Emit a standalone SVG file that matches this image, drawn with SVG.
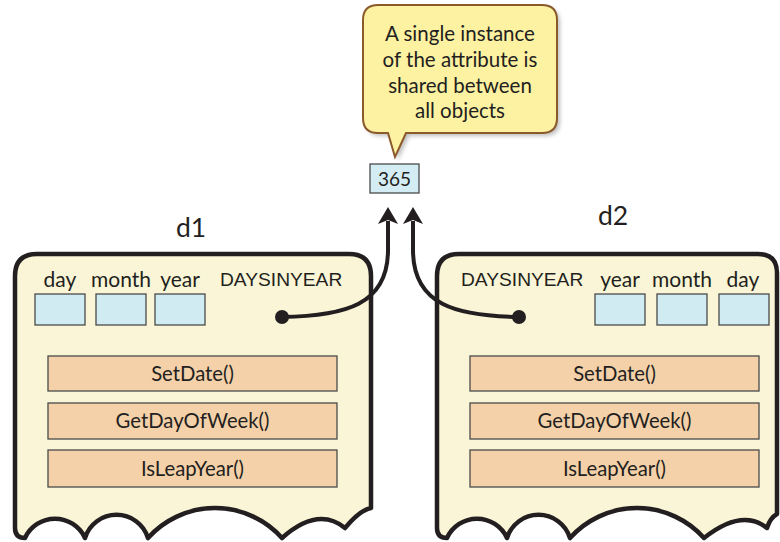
<svg xmlns="http://www.w3.org/2000/svg" width="780" height="542" viewBox="0 0 780 542">
  <style>
    .obj { fill: #f9f5d6; stroke: #231f20; stroke-width: 4.5; stroke-linejoin: round; }
    .attr { fill: #d0ebf2; stroke: #4a4a4a; stroke-width: 1.3; }
    .meth { fill: #f4d1a9; stroke: #4a4a4a; stroke-width: 1.3; }
    .t { font-family: Lato, "Liberation Sans", sans-serif; fill: #231f20; }
    .lbl { font-size: 21px; text-anchor: middle; }
    .note { font-size: 20.5px; text-anchor: middle; }
    .cap { font-family: "Liberation Sans", Arial, sans-serif; font-size: 19.2px; fill: #231f20; }
    .mt { font-size: 20.3px; text-anchor: middle; }
    .name { font-size: 26.5px; }
    .link { fill: none; stroke: #231f20; stroke-width: 4; }
  </style>
  <defs>
    <marker id="head" markerUnits="userSpaceOnUse" markerWidth="40" markerHeight="40" refX="0" refY="0" viewBox="-20 -20 40 40" orient="auto" overflow="visible">
      <path d="M14,0 L-3,-10 L1,0 L-3,10 Z" fill="#231f20"/>
    </marker>
    <filter id="soft" x="-10%" y="-10%" width="130%" height="130%">
      <feGaussianBlur stdDeviation="2"/>
    </filter>
  </defs>

  <rect width="780" height="542" fill="#ffffff"/>

  <!-- callout -->
  <g id="callout">
    <path d="M381,8 H545 Q560,8 560,23 V121 Q560,136 545,136 H409 L398,160 L391,136 H381 Q366,136 366,121 V23 Q366,8 381,8 Z" fill="#000" opacity="0.25" filter="url(#soft)"/>
    <path d="M378,5 H542 Q557,5 557,20 V118 Q557,133 542,133 H406 L395,157 L388,133 H378 Q363,133 363,118 V20 Q363,5 378,5 Z" fill="#fdf1a2" stroke="#8b5a2b" stroke-width="2"/>
    <text class="t note" x="460" y="41">A single instance</text>
    <text class="t note" x="460" y="67">of the attribute is</text>
    <text class="t note" x="460" y="93">shared between</text>
    <text class="t note" x="460" y="118">all objects</text>
  </g>

  <!-- shared static value -->
  <g id="shared">
    <rect x="370" y="164" width="49" height="29" fill="#d4edf4" stroke="#4a4a4a" stroke-width="1.3"/>
    <text class="t" x="394.5" y="186" font-size="19" text-anchor="middle">365</text>
  </g>

  <!-- object d1 -->
  <g id="d1">
    <text class="t name" x="176" y="237">d1</text>
    <path class="obj" d="M15,528 V276 Q15,254 37,254 H349 Q371,254 371,276 V508 Q360,510 345,528 Q318,506 282,538 A90 90 0 0 0 148,538 A33 33 0 0 0 85,538 A33 33 0 0 0 25,538 Q15,538 15,528 Z"/>
    <text class="t lbl" x="60" y="287">day</text>
    <text class="t lbl" x="121" y="287">month</text>
    <text class="t lbl" x="180" y="287">year</text>
    <text class="cap" x="220" y="286">DAYSINYEAR</text>
    <rect class="attr" x="35" y="294" width="50" height="31"/>
    <rect class="attr" x="96" y="294" width="50" height="31"/>
    <rect class="attr" x="155" y="294" width="50" height="31"/>
    <rect class="meth" x="48" y="356" width="289" height="35"/>
    <rect class="meth" x="48" y="403" width="289" height="36"/>
    <rect class="meth" x="48" y="450" width="289" height="37"/>
    <text class="t mt" x="192.5" y="381">SetDate()</text>
    <text class="t mt" x="192.5" y="428">GetDayOfWeek()</text>
    <text class="t mt" x="192.5" y="476">IsLeapYear()</text>
  </g>

  <!-- object d2 -->
  <g id="d2">
    <text class="t name" x="598" y="225">d2</text>
    <path class="obj" d="M437,528 V276 Q437,254 459,254 H758 Q777,254 777,273 V514 Q770,518 767,528 Q742,508 704,538 A90 90 0 0 0 570,538 A33 33 0 0 0 507,538 A33 33 0 0 0 447,538 Q437,538 437,528 Z"/>
    <text class="cap" x="461" y="286">DAYSINYEAR</text>
    <text class="t lbl" x="620" y="287">year</text>
    <text class="t lbl" x="682" y="287">month</text>
    <text class="t lbl" x="743" y="287">day</text>
    <rect class="attr" x="595" y="294" width="50" height="31"/>
    <rect class="attr" x="657" y="294" width="50" height="31"/>
    <rect class="attr" x="719" y="294" width="50" height="31"/>
    <rect class="meth" x="470" y="356" width="289" height="35"/>
    <rect class="meth" x="470" y="403" width="289" height="36"/>
    <rect class="meth" x="470" y="450" width="289" height="37"/>
    <text class="t mt" x="614.5" y="381">SetDate()</text>
    <text class="t mt" x="614.5" y="428">GetDayOfWeek()</text>
    <text class="t mt" x="614.5" y="476">IsLeapYear()</text>
  </g>

  <!-- references to the shared value -->
  <g id="connectors">
    <path class="link" d="M282,317 C345,316 388,305 388,250 L388,221" marker-end="url(#head)"/>
    <path class="link" d="M519,317 C456,316 413,305 413,250 L413,221" marker-end="url(#head)"/>
    <circle cx="282" cy="317" r="7" fill="#231f20"/>
    <circle cx="519" cy="317" r="7" fill="#231f20"/>
  </g>
</svg>
